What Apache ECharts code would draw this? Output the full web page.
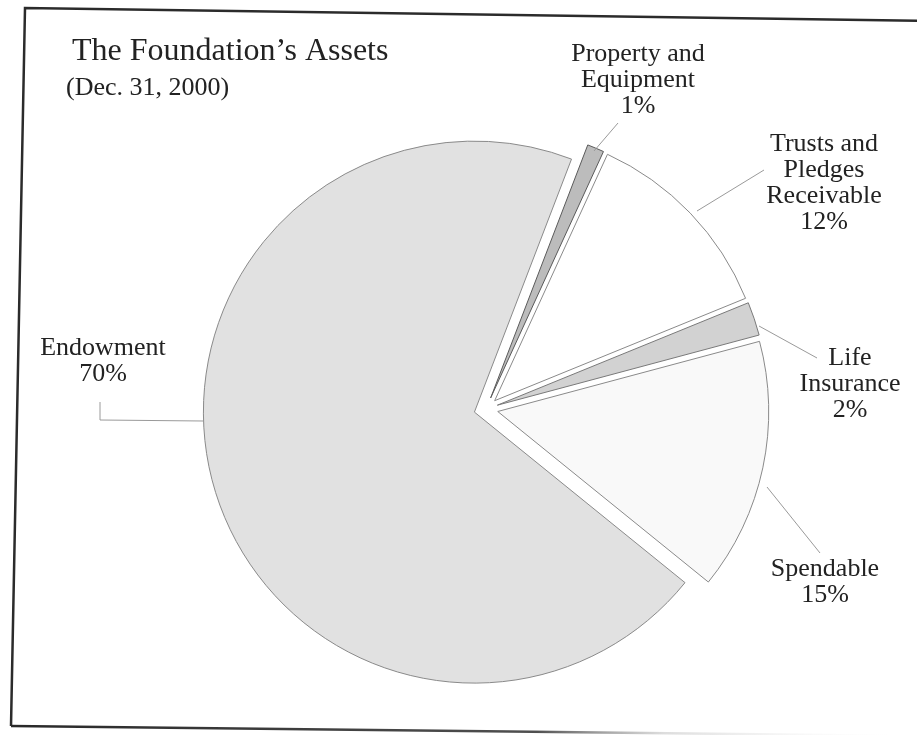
<!DOCTYPE html>
<html>
<head>
<meta charset="utf-8">
<title>The Foundation’s Assets</title>
<script src="https://cdn.jsdelivr.net/npm/echarts@6/dist/echarts.min.js"></script>
<style>
  html, body { margin: 0; padding: 0; background: #ffffff; }
  #chart { width: 917px; height: 735px; }
</style>
</head>
<body>
<div id="chart"></div>
<script>
// Asset categories, clockwise from the top (two-line names wrap with \n)
const categories = ['Property and\nEquipment', 'Trusts and\nPledges\nReceivable', 'Life\nInsurance', 'Spendable', 'Endowment'];
// Share of total assets, percent
const shares = [1, 12, 2, 15, 70];

const titleText = 'The Foundation’s Assets';
const subtitleText = '(Dec. 31, 2000)';

// Slice styling, same order as the categories
const fills = ['#bcbcbc', '#ffffff', '#d2d2d2', '#f9f9f9', '#e1e1e1'];
const edges = ['#5a5a5a', '#8a8a8a', '#7a7a7a', '#8a8a8a', '#8a8a8a'];

// Where each label block sits (top centre) and how its leader line runs
const labelSpots = [
  { x: 638, y: 41, line: [[594, 151], [618, 123]] },
  { x: 824, y: 131, line: [[697, 211], [764, 170]] },
  { x: 850, y: 345, line: [[759, 326], [817, 358]] },
  { x: 825, y: 556, line: [[767, 487], [820, 553]] },
  { x: 103, y: 335, line: [[203, 421], [100, 420], [100, 402]] }
];

const serif = '"Liberation Serif", "DejaVu Serif", serif';

const pieData = categories.map((name, i) => {
  const style = { color: fills[i], borderColor: edges[i], borderWidth: 1 };
  return {
    name: name,
    value: shares[i],
    selected: true,
    itemStyle: style,
    select: { itemStyle: style }
  };
});

// Category labels with their percentages, plus the leader lines
const labelGraphics = [];
categories.forEach((name, i) => {
  const spot = labelSpots[i];
  labelGraphics.push({
    type: 'polyline',
    silent: true,
    z: 5,
    shape: { points: spot.line },
    style: { stroke: '#9a9a9a', lineWidth: 1, fill: null }
  });
  labelGraphics.push({
    type: 'text',
    silent: true,
    z: 5,
    x: spot.x,
    y: spot.y,
    style: {
      text: name + '\n' + shares[i] + '%',
      fontFamily: serif,
      fontSize: 26,
      lineHeight: 26,
      fill: '#222222',
      align: 'center',
      verticalAlign: 'top'
    }
  });
});

const chart = echarts.init(document.getElementById('chart'), null, { renderer: 'canvas' });

chart.setOption({
  backgroundColor: '#ffffff',
  animation: false,
  title: [
    {
      text: titleText,
      left: 67,
      top: 31,
      textStyle: { fontFamily: serif, fontSize: 32, fontWeight: 'normal', color: '#222222', lineHeight: 32 }
    },
    {
      text: subtitleText,
      left: 61,
      top: 70,
      textStyle: { fontFamily: serif, fontSize: 26, fontWeight: 'normal', color: '#222222', lineHeight: 26 }
    }
  ],
  graphic: [
    {
      type: 'polyline',
      silent: true,
      shape: { points: [[940, 21], [25, 8], [11, 726]] },
      style: { stroke: '#2b2b2b', lineWidth: 2.5, fill: null }
    },
    {
      type: 'line',
      silent: true,
      shape: { x1: 11, y1: 726, x2: 917, y2: 736 },
      style: {
        lineWidth: 2.5,
        stroke: new echarts.graphic.LinearGradient(0, 0, 1, 0, [
          { offset: 0, color: 'rgba(40,40,40,1)' },
          { offset: 0.58, color: 'rgba(60,60,60,0.9)' },
          { offset: 0.72, color: 'rgba(120,120,120,0.25)' },
          { offset: 1, color: 'rgba(255,255,255,0)' }
        ])
      }
    }
  ].concat(labelGraphics),
  series: [
    {
      type: 'pie',
      center: [486, 409],
      radius: 271,
      startAngle: 69,
      clockwise: true,
      selectedMode: 'multiple',
      selectedOffset: 12,
      emphasis: { disabled: true },
      label: { show: false },
      labelLine: { show: false },
      data: pieData
    }
  ]
});
</script>
</body>
</html>
